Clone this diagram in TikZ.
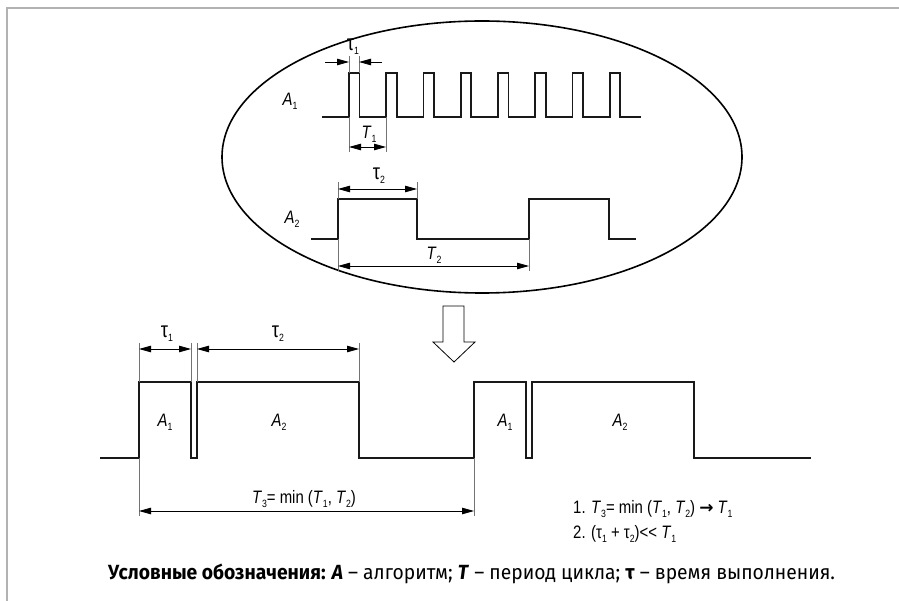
\documentclass[tikz,border=0pt]{standalone}
\usepackage{fontspec}
\setmainfont[FakeStretch=0.83]{Liberation Sans}
\newfontfamily\capfont[FakeStretch=0.94]{Fira Sans}
\newfontfamily\symfont{DejaVu Sans}
\usetikzlibrary{arrows.meta,positioning}
\tikzset{>={Triangle[length=12pt,width=6.5pt]}}
\tikzset{
  sig/.style={line width=1.8pt,draw=black!90,line join=miter},
  dim/.style={line width=0.8pt},
  ext/.style={line width=0.6pt,draw=black!55},
  lab/.style={inner sep=0pt,font=\fontsize{18}{20}\selectfont},
}
\newcommand\low[1]{\raisebox{-4pt}{\fontsize{10.5}{11}\selectfont\upshape#1}}
\newcommand\tauch{{\fontsize{22}{22}\selectfont τ}}

\begin{document}
\begin{tikzpicture}[x=1pt,y=-1pt]
    \useasboundingbox (0,0) rectangle (899,601);
    \draw[line width=1.5pt,draw=black!30] (7,601) -- (7,8) -- (899,8);
    \draw[line width=1.6pt] (482,157) ellipse [x radius=260pt,y radius=136pt];

    % upper signals
    \draw[sig] (322,117) \foreach \i in {0,...,7} {
        -- ({349+37.25*\i},117) -- ++(0,-44) -- ++(10.5,0) -- ++(0,44) } -- (641,117);
    \draw[sig] (311,239) -- (338,239) -- (338,199) -- (417,199) -- (417,239)
        -- (529,239) -- (529,199) -- (609,199) -- (609,239) -- (636,239);

    \node[lab] (a1top) at (290,101) {\textit{A}\low{1}};
    \node[lab] (a2top) at (292,219) {\textit{A}\low{2}};

    \coordinate (t1l) at (349,62);  \coordinate (t1r) at (359,62);
    \coordinate (t1lo) at (325,62); \coordinate (t1ro) at (382,62);
    \coordinate (p1a) at (349,147); \coordinate (p1b) at (386,147);
    \draw[ext] (349,56) -- (349,73) (359,56) -- (359,73)
        (349,117) -- (349,152) (386,117) -- (386,152);
    \draw[dim,->] (t1lo) -- (t1l);
    \draw[dim,->] (t1ro) -- (t1r);
    \draw[dim,<->] (p1a) -- (p1b);
    \node[lab] (tau1top) at (353,47) {\tauch\low{1}};
    \node[lab] (per1) at (369,134) {\textit{T}\low{1}};

    \coordinate (t2l) at (338,189); \coordinate (t2r) at (417,189);
    \coordinate (p2a) at (338,266); \coordinate (p2b) at (529,266);
    \draw[ext] (338,182) -- (338,199) (417,182) -- (417,199)
        (338,239) -- (338,271) (529,239) -- (529,271);
    \draw[dim,<->] (t2l) -- (t2r);
    \draw[dim,<->] (p2a) -- (p2b);
    \node[lab] (tau2top) at (379,176) {\tauch\low{2}};
    \node[lab] (per2) at (434,255) {\textit{T}\low{2}};

    \draw[line width=0.8pt,fill=white] (443,306) -- (464,306) -- (464,342) -- (475,342)
        -- (454,362) -- (433,342) -- (443,342) -- cycle;

    % combined signal
    \draw[sig] (100,458) -- (139,458) -- (139,382) -- (191,382) -- (191,458) -- (197,458)
        -- (197,382) -- (359,382) -- (359,458) -- (474,458) -- (474,382) -- (526,382)
        -- (526,458) -- (532,458) -- (532,382) -- (694,382) -- (694,458) -- (811,458);

    \coordinate (b1l) at (139,349); \coordinate (b1r) at (191,349);
    \coordinate (b2l) at (197,349); \coordinate (b2r) at (359,349);
    \coordinate (p3a) at (139,511); \coordinate (p3b) at (474,511);
    \draw[ext] (139,343) -- (139,382) (191,343) -- (191,382) (197,343) -- (197,382)
        (359,343) -- (359,382) (139,458) -- (139,516) (474,458) -- (474,516);
    \draw[dim,<->] (b1l) -- (b1r);
    \draw[dim,<->] (b2l) -- (b2r);
    \draw[dim,<->] (p3a) -- (p3b);
    \node[lab] (tau1bot) at (167,334) {\tauch\low{1}};
    \node[lab] (tau2bot) at (278,334) {\tauch\low{2}};
    \node[lab] (per3) at (304,499) {\textit{T}\low{3}= min (\textit{T}\low{1}, \textit{T}\low{2})};

    \node[lab] (a1l) at (165,422) {\textit{A}\low{1}};
    \node[lab] (a2l) at (279,422) {\textit{A}\low{2}};
    \node[lab] (a1r) at (505,422) {\textit{A}\low{1}};
    \node[lab] (a2r) at (620,422) {\textit{A}\low{2}};

    \node[lab,anchor=base west] (note1) at (573,513)
        {1. \textit{T}\low{3}= min (\textit{T}\low{1}, \textit{T}\low{2}) {\symfont\bfseries\fontsize{17}{17}\selectfont →} \textit{T}\low{1}};
    \node[lab,anchor=base west] (note2) at ([yshift=-25pt]note1.base west)
        {2. (τ\low{1} + τ\low{2})<{}< \textit{T}\low{1}};

    \node[anchor=base west,inner sep=0pt,font=\capfont\fontsize{20.5}{22}\selectfont] (legend) at (108,579)
        {\textbf{Условные обозначения: \textit{A}} – алгоритм; \textbf{\textit{T}} – период цикла; \textbf{τ} – время выполнения.};
\end{tikzpicture}
\end{document}
